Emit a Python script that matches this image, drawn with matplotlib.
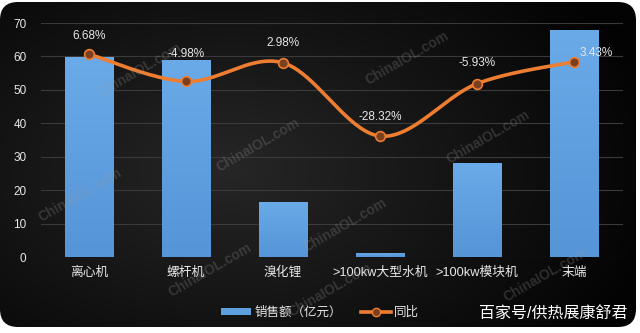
import numpy as np
import matplotlib
matplotlib.use("Agg")
import matplotlib.pyplot as plt
from matplotlib.patches import FancyBboxPatch, Patch
from matplotlib.lines import Line2D

plt.rcParams['font.family'] = ['Liberation Sans', 'Noto Sans CJK SC', 'DejaVu Sans']

categories = ["离心机", "螺杆机", "溴化锂", ">100kw大型水机", ">100kw模块机", "末端"]
sales = [59.8, 58.8, 16.5, 1.2, 28.1, 68.0]
yoy = [6.68, -4.98, 2.98, -28.32, -5.93, 3.43]
yoy_labels = ["6.68%", "-4.98%", "2.98%", "-28.32%", "-5.93%", "3.43%"]
legend_labels = ["销售额（亿元）", "同比"]
credit = "百家号/供热展康舒君"
watermark = "ChinaIOL.com"

# label offsets (points) for each yoy label (text centre relative to point)
label_offsets = [(0, 13), (0, 19.5), (0, 14.5), (0, 13.7), (0, 15), (16, 6.5)]

BLUE = "#5E9FE0"
ORANGE = "#ED7D31"
TXT = "#E8E8E8"

fig = plt.figure(figsize=(6.4, 3.33), dpi=100)
fig.patch.set_facecolor("white")

# background panel with gradient
bg = fig.add_axes([0, 0, 1, 1], zorder=-10)
bg.set_xlim(0, 640)
bg.set_ylim(333, 0)
bg.axis("off")
xx, yy = np.meshgrid(np.linspace(0, 640, 320), np.linspace(0, 333, 170))
d = np.sqrt(((xx - 230) / 420) ** 2 + ((yy - 170) / 260) ** 2)
val = np.clip(0.15 - 0.13 * d, 0.015, 0.15)
img = np.dstack([val, val, val])
im = bg.imshow(img, extent=(0, 640, 333, 0), aspect="auto", interpolation="bilinear")
panel = FancyBboxPatch((0, 2), 636, 325, boxstyle="round,pad=0,rounding_size=18",
                       transform=bg.transData, facecolor="none", edgecolor="none")
bg.add_patch(panel)
im.set_clip_path(panel)

ax = fig.add_axes([40.5 / 640, (333 - 257) / 333, 582 / 640, 234 / 333])
ax.patch.set_alpha(0)
x = np.arange(len(categories))
bars = ax.bar(x, sales, width=0.5, color=BLUE, zorder=2)
# gradient on bars
grad = np.linspace(0, 1, 100).reshape(-1, 1)
cmap = matplotlib.colors.LinearSegmentedColormap.from_list("g", ["#5595D8", "#6AAAE8"])
for b in bars:
    bx, by = b.get_x(), b.get_y()
    w, h = b.get_width(), b.get_height()
    gi = ax.imshow(grad, extent=(bx, bx + w, by, by + h), aspect="auto",
                   cmap=cmap, zorder=2.1, origin="lower")
    gi.set_clip_path(b)

ax.set_xlim(-0.5, len(categories) - 0.5)
ax.set_ylim(0, 70)
ax.set_yticks(np.arange(0, 71, 10))
ax.set_xticks(x)
ax.set_xticklabels(categories)
ax.tick_params(axis="both", length=0, colors=TXT)
ax.tick_params(axis="y", pad=10, labelsize=8.5)
ax.tick_params(axis="x", pad=7, labelsize=9.2)
ax.grid(axis="y", color="#3a3a3a", linewidth=0.8, zorder=0)
ax.set_axisbelow(True)
for s in ax.spines.values():
    s.set_visible(False)

ax2 = ax.twinx()
ax2.set_ylim(-80, 20)
ax2.axis("off")

# smooth line (Catmull-Rom as cubic Bezier)
px = np.array(x, dtype=float)
py = np.array(yoy, dtype=float)
n = len(px)
sx, sy = [], []
t = np.linspace(0, 1, 40)
for i in range(n - 1):
    p0 = np.array([px[max(i - 1, 0)], py[max(i - 1, 0)]])
    p1 = np.array([px[i], py[i]])
    p2 = np.array([px[i + 1], py[i + 1]])
    p3 = np.array([px[min(i + 2, n - 1)], py[min(i + 2, n - 1)]])
    c1 = p1 + (p2 - p0) / 6
    c2 = p2 - (p3 - p1) / 6
    pts = ((1 - t) ** 3)[:, None] * p1 + (3 * (1 - t) ** 2 * t)[:, None] * c1 + \
          (3 * (1 - t) * t ** 2)[:, None] * c2 + (t ** 3)[:, None] * p2
    sx.extend(pts[:, 0]); sy.extend(pts[:, 1])
ax2.plot(sx, sy, color=ORANGE, linewidth=2.6, zorder=3, solid_capstyle="round")
ax2.plot(px, py, linestyle="none", marker="o", markersize=7, markerfacecolor="#7a4020",
         markeredgecolor=ORANGE, markeredgewidth=1.2, zorder=4)
for xi, yi, lab, off in zip(px, py, yoy_labels, label_offsets):
    ax2.annotate(lab, (xi, yi), xytext=off, textcoords="offset points",
                 ha="center", va="center", color=TXT, fontsize=8.5, zorder=5)

# watermarks
for (wx, wy) in [(140, 70), (258, 145), (407, 58), (488, 137), (80, 195), (210, 270),
                 (345, 225), (545, 275), (330, 290)]:
    fig.text(wx / 640, 1 - wy / 333, watermark, rotation=30, ha="center", va="center",
             color="#9a9a9a", alpha=0.25, fontsize=10, fontweight="bold", zorder=1)

handles = [Patch(facecolor=BLUE, edgecolor="none"),
           Line2D([0], [0], color=ORANGE, linewidth=2.6, marker="o", markersize=6,
                  markerfacecolor="#7a4020", markeredgecolor=ORANGE)]
leg = fig.legend(handles, legend_labels, loc="center", bbox_to_anchor=(320 / 640, 1 - 313 / 333),
                 ncol=2, frameon=False, fontsize=9, labelcolor=TXT, handlelength=2.4,
                 handleheight=0.5, handletextpad=0.3, columnspacing=1.5)
fig.text(553 / 640, 1 - 313 / 333, credit, ha="center", va="center", color="white", fontsize=11.5)

fig.savefig("out.png", dpi=100, facecolor=fig.get_facecolor())
